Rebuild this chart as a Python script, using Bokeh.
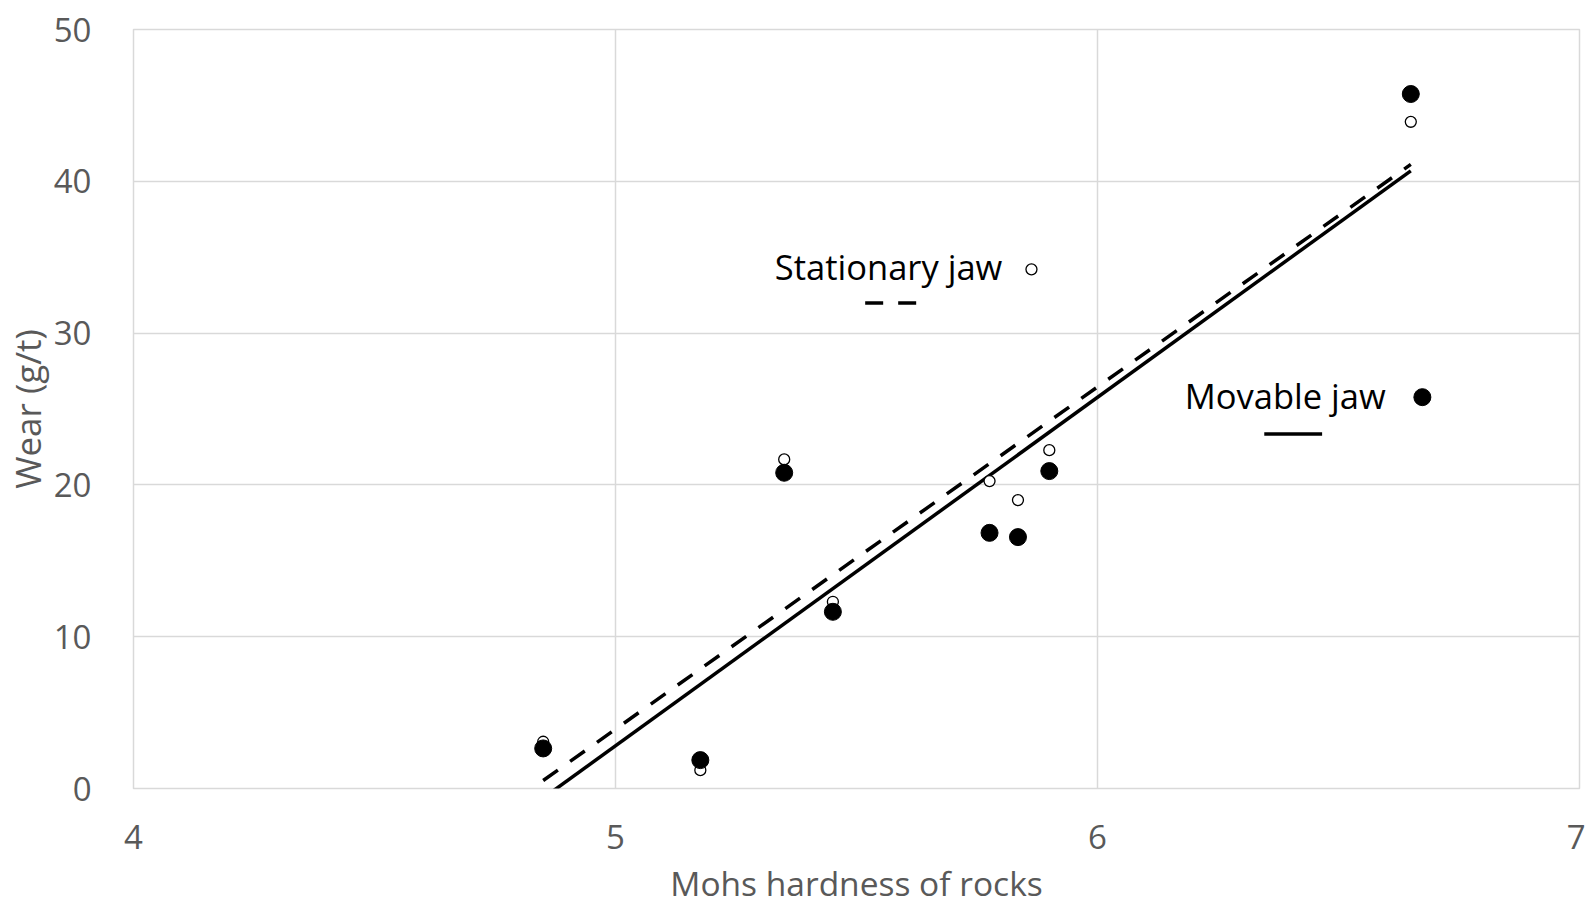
import numpy as np
from bokeh.plotting import figure
from bokeh.models import Range1d, FixedTicker, Label
from bokeh.embed import file_html
from bokeh.resources import INLINE

# Mohs hardness of the tested rocks and measured jaw-plate wear (g/t)
hardness = [4.85, 5.176, 5.35, 5.451, 5.776, 5.835, 5.90, 6.65]
wear_movable = [2.64, 1.87, 20.8, 11.64, 16.84, 16.56, 20.91, 45.75]
wear_stationary = [3.08, 1.21, 21.68, 12.30, 20.25, 19.0, 22.29, 43.92]

x_ticks = [4, 5, 6, 7]
y_ticks = [0, 10, 20, 30, 40, 50]

FONT = "Open Sans"
GREY = "#595959"
GRID = "#d9d9d9"

p = figure(width=1585, height=909,
           x_range=Range1d(4, 7), y_range=Range1d(0, 50),
           output_backend="svg", toolbar_location=None,
           min_border_left=132, min_border_right=6,
           min_border_top=29, min_border_bottom=121)

p.outline_line_color = GRID
p.outline_line_width = 1.5
p.background_fill_color = "white"
p.border_fill_color = "white"

for ax in (p.xaxis[0], p.yaxis[0]):
    ax.axis_line_color = None
    ax.major_tick_line_color = None
    ax.minor_tick_line_color = None
    ax.major_label_text_font = FONT
    ax.major_label_text_font_size = "33px"
    ax.major_label_text_color = GREY
    ax.axis_label_text_font = FONT
    ax.axis_label_text_font_style = "normal"
    ax.axis_label_text_color = GREY

p.xaxis.ticker = FixedTicker(ticks=x_ticks)
p.yaxis.ticker = FixedTicker(ticks=y_ticks)
p.xaxis.axis_label = "Mohs hardness of rocks"
p.yaxis.axis_label = "Wear (g/t)"
p.xaxis.axis_label_text_font_size = "33.5px"
p.yaxis.axis_label_text_font_size = "35px"
p.xaxis.major_label_standoff = 30
p.xaxis.axis_label_standoff = 8
p.yaxis.major_label_standoff = 36
p.yaxis.axis_label_standoff = 0

p.xgrid.ticker = FixedTicker(ticks=x_ticks)
p.ygrid.ticker = FixedTicker(ticks=y_ticks)
p.xgrid.grid_line_color = GRID
p.ygrid.grid_line_color = GRID
p.xgrid.grid_line_width = 1.5
p.ygrid.grid_line_width = 1.5

# least-squares trend lines for both jaws
hx = np.array(hardness)
xs_fit = np.array([hx.min(), hx.max()])
k_m, b_m = np.polyfit(hx, np.array(wear_movable), 1)
k_s, b_s = np.polyfit(hx, np.array(wear_stationary), 1)

p.line(xs_fit, k_s * xs_fit + b_s, line_color="black", line_width=3.5,
       line_dash="18 15")
p.line(xs_fit, k_m * xs_fit + b_m, line_color="black", line_width=3.5)

p.scatter(hardness, wear_stationary, size=11, marker="circle",
          fill_color="white", line_color="black", line_width=1.3)
p.scatter(hardness, wear_movable, size=17, marker="circle",
          fill_color="black", line_color="black")

# in-plot key
p.add_layout(Label(x=5.3306, y=34.42, text="Stationary jaw", text_font=FONT,
                   text_font_size="34.5px", text_color="black",
                   text_baseline="middle", text_align="left"))
p.scatter([5.863], [34.2], size=11, marker="circle",
          fill_color="white", line_color="black", line_width=1.3)
p.line([5.518, 5.625], [31.98, 31.98], line_color="black", line_width=3.5,
       line_dash="18 15")

p.add_layout(Label(x=6.181, y=25.88, text="Movable jaw", text_font=FONT,
                   text_font_size="34.5px", text_color="black",
                   text_baseline="middle", text_align="left"))
p.scatter([6.674], [25.78], size=17, marker="circle",
          fill_color="black", line_color="black")
p.line([6.346, 6.466], [23.35, 23.35], line_color="black", line_width=3.5)

open("out.html", "w").write(file_html(p, INLINE))
